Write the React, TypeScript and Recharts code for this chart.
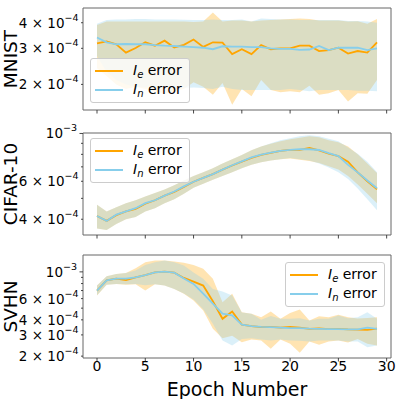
import { Area, ComposedChart, Legend, Line, ReferenceArea, XAxis, YAxis } from "recharts";

// epochs shared by all three panels
const epochs = [0, 1, 2, 3, 4, 5, 6, 7, 8, 9, 10, 11, 12, 13, 14, 15, 16, 17, 18, 19, 20, 21, 22, 23, 24, 25, 26, 27, 28, 29];
const xTicks = [0, 5, 10, 15, 20, 25, 30];

// all error values are in units of 1e-4
const mnistIe = [3.17, 3.24, 3.14, 2.86, 3.01, 3.21, 3.09, 3.27, 3.03, 3.12, 3.31, 3.05, 3.21, 3.2, 2.81, 2.97, 2.81, 3.11, 2.97, 3.0, 3.0, 3.09, 3.09, 2.91, 2.94, 3.02, 2.83, 2.91, 2.86, 3.21];
const mnistIeLo = [2.4, 2.2, 2.0, 1.9, 1.95, 1.9, 1.85, 1.8, 1.85, 1.9, 2.05, 1.95, 1.78, 2.03, 1.59, 1.9, 1.75, 2.1, 1.88, 1.83, 1.85, 1.83, 1.97, 1.78, 1.81, 1.88, 1.65, 1.81, 1.8, 2.1];
const mnistIeHi = [3.9, 4.05, 4.05, 4.05, 4.06, 4.06, 4.05, 4.05, 4.06, 4.05, 4.03, 4.05, 4.49, 4.05, 4.1, 4.1, 4.05, 4.1, 4.12, 4.15, 4.17, 4.2, 4.17, 4.1, 4.1, 4.1, 4.05, 4.07, 3.95, 4.17];
const mnistIn = [3.39, 3.21, 3.14, 3.15, 3.14, 3.14, 3.11, 3.09, 3.08, 3.06, 3.04, 3.02, 2.97, 3.07, 3.06, 3.06, 3.04, 3.04, 3.0, 2.98, 2.98, 2.95, 2.96, 3.08, 2.94, 3.02, 3.02, 3.02, 2.94, 3.0];
const mnistInLo = [2.75, 2.3, 2.1, 2.0, 1.95, 1.93, 1.92, 1.92, 1.92, 1.92, 1.93, 1.92, 1.9, 1.95, 1.9, 1.88, 1.88, 1.88, 1.88, 1.88, 1.9, 1.88, 1.85, 1.88, 1.88, 1.88, 1.88, 1.86, 1.86, 1.85];
const mnistInHi = [3.95, 4.12, 4.15, 4.15, 4.17, 4.17, 4.15, 4.15, 4.15, 4.14, 4.12, 4.12, 4.15, 4.12, 4.12, 4.15, 4.05, 4.2, 4.17, 4.15, 4.15, 4.12, 4.12, 4.12, 4.12, 4.12, 4.08, 4.08, 4.05, 4.0];

const cifarIe = [4.14, 3.93, 4.18, 4.35, 4.47, 4.72, 4.9, 5.15, 5.35, 5.65, 5.97, 6.22, 6.48, 6.8, 7.1, 7.4, 7.7, 7.95, 8.12, 8.3, 8.4, 8.4, 8.56, 8.35, 8.07, 7.85, 7.4, 6.6, 6.0, 5.5];
const cifarIeLo = [3.62, 3.57, 3.8, 4.0, 4.1, 4.35, 4.5, 4.75, 4.95, 5.25, 5.6, 5.85, 6.1, 6.35, 6.6, 6.9, 7.15, 7.35, 7.5, 7.6, 7.65, 7.55, 7.45, 7.3, 7.05, 6.8, 6.35, 5.8, 5.25, 4.75];
const cifarIeHi = [4.67, 4.34, 4.55, 4.75, 4.9, 5.1, 5.3, 5.5, 5.75, 6.05, 6.35, 6.6, 6.9, 7.25, 7.6, 7.95, 8.35, 8.7, 8.95, 9.2, 9.4, 9.55, 9.7, 9.6, 9.3, 9.1, 8.7, 8.0, 7.25, 6.55];
const cifarIn = [4.14, 3.93, 4.2, 4.35, 4.5, 4.75, 4.9, 5.15, 5.38, 5.68, 5.97, 6.22, 6.48, 6.8, 7.12, 7.42, 7.75, 7.98, 8.15, 8.3, 8.4, 8.45, 8.45, 8.38, 8.1, 7.85, 7.15, 6.6, 6.05, 5.57];
const cifarInLo = [3.62, 3.57, 3.8, 4.0, 4.1, 4.35, 4.5, 4.75, 4.95, 5.25, 5.6, 5.85, 6.1, 6.35, 6.6, 6.9, 7.15, 7.35, 7.5, 7.6, 7.7, 7.6, 7.5, 7.25, 6.95, 6.6, 6.15, 5.55, 4.95, 4.4];
const cifarInHi = [4.67, 4.34, 4.55, 4.75, 4.9, 5.1, 5.3, 5.5, 5.75, 6.05, 6.35, 6.6, 6.9, 7.25, 7.6, 7.95, 8.35, 8.7, 9.0, 9.3, 9.5, 9.7, 9.8, 9.7, 9.45, 9.2, 8.6, 8.05, 7.4, 6.6];

const svhnIe = [7.0, 8.5, 8.8, 8.55, 9.0, 9.4, 9.9, 10.05, 9.85, 8.9, 8.3, 7.7, 5.7, 4.08, 4.69, 3.65, 3.55, 3.48, 3.5, 3.45, 3.5, 3.45, 3.37, 3.4, 3.35, 3.37, 3.33, 3.32, 3.3, 3.38];
const svhnIeLo = [6.36, 7.8, 7.95, 7.8, 7.9, 7.0, 7.9, 7.7, 7.2, 6.57, 5.79, 4.78, 3.37, 2.82, 2.95, 2.61, 2.75, 2.7, 2.3, 2.75, 2.53, 2.13, 2.65, 2.48, 2.65, 2.7, 2.59, 2.78, 2.53, 2.45];
const svhnIeHi = [7.7, 9.2, 9.6, 9.8, 10.7, 12.0, 12.4, 12.4, 12.2, 11.9, 11.4, 10.6, 8.75, 5.6, 6.57, 4.63, 4.5, 4.21, 4.7, 4.08, 4.55, 4.87, 3.95, 4.29, 4.2, 4.4, 4.2, 4.1, 4.15, 4.2];
const svhnIn = [7.0, 8.5, 8.8, 8.8, 9.0, 9.4, 9.9, 10.05, 9.85, 8.8, 7.95, 6.6, 5.45, 4.5, 4.35, 3.65, 3.55, 3.5, 3.48, 3.45, 3.42, 3.42, 3.38, 3.37, 3.35, 3.35, 3.33, 3.33, 3.45, 3.37];
const svhnInLo = [6.4, 7.8, 7.95, 7.9, 7.95, 7.75, 7.9, 7.7, 7.2, 6.6, 5.9, 4.9, 3.71, 2.7, 2.45, 2.78, 2.82, 2.75, 2.7, 2.75, 2.7, 2.68, 2.65, 2.7, 2.7, 2.7, 2.65, 2.65, 2.37, 2.45];
const svhnInHi = [7.7, 9.2, 9.6, 9.8, 10.25, 11.4, 12.0, 12.4, 12.0, 11.3, 9.9, 8.75, 7.2, 6.87, 6.36, 4.6, 4.5, 4.0, 4.3, 4.08, 4.08, 4.13, 3.95, 4.08, 4.08, 4.35, 4.13, 4.21, 4.63, 4.08];

const legendSubs = ["e", "n"];

const FONT = "'DejaVu Sans', sans-serif";
const ORANGE = "#ffa500";
const SKY = "#87ceeb";
const AXIS = "#333";
const X_DOMAIN: [number, number] = [-1.45, 30.45];

function buildRows(ie: number[], ieLo: number[], ieHi: number[], inn: number[], inLo: number[], inHi: number[]) {
  return epochs.map((epoch, i) => ({
    epoch,
    ie: ie[i],
    ieBand: [ieLo[i], ieHi[i]],
    in: inn[i],
    inBand: [inLo[i], inHi[i]],
  }));
}

const panels = [
  {
    name: "MNIST",
    rows: buildRows(mnistIe, mnistIeLo, mnistIeHi, mnistIn, mnistInLo, mnistInHi),
    domain: [1.5, 4.72] as [number, number],
    ticks: [2, 3, 4],
    labeled: [2, 3, 4],
    top: 0,
    height: 125,
    marginTop: 8,
    xHeight: 15,
    legend: { left: 90, top: 58 },
    bottom: false,
  },
  {
    name: "CIFAR-10",
    rows: buildRows(cifarIe, cifarIeLo, cifarIeHi, cifarIn, cifarInLo, cifarInHi),
    domain: [3.38, 10.05] as [number, number],
    ticks: [4, 5, 6, 7, 8, 9, 10],
    labeled: [4, 6, 10],
    top: 113,
    height: 137,
    marginTop: 20,
    xHeight: 15,
    legend: { left: 90, top: 25 },
    bottom: false,
  },
  {
    name: "SVHN",
    rows: buildRows(svhnIe, svhnIeLo, svhnIeHi, svhnIn, svhnInLo, svhnInHi),
    domain: [1.93, 13.8] as [number, number],
    ticks: [2, 3, 4, 5, 6, 7, 8, 9, 10],
    labeled: [2, 3, 4, 6, 10],
    top: 250,
    height: 149,
    marginTop: 5,
    xHeight: 41,
    legend: { left: 285, top: 12 },
    bottom: true,
  },
];

function YTick(props: any) {
  const { x, y, payload, labeled } = props;
  const v = payload.value;
  const len = v === 10 ? 3.5 : 2;
  const show = labeled.includes(v);
  return (
    <g>
      <line x1={x - len} x2={x} y1={y} y2={y} stroke={AXIS} strokeWidth={0.9} />
      {show && (
        <text x={x - len - 2.5} y={y + 5} textAnchor="end" fontSize={13.5} fontFamily={FONT} fill="#000">
          {v === 10 ? "10" : `${v} × 10`}
          <tspan dy={-7} fontSize={9.5}>
            {v === 10 ? "−3" : "−4"}
          </tspan>
        </text>
      )}
    </g>
  );
}

function XTick(props: any) {
  const { x, y, payload, showLabel } = props;
  return (
    <g>
      <line x1={x} x2={x} y1={y} y2={y + 3.5} stroke={AXIS} strokeWidth={0.9} />
      {showLabel && (
        <text x={x} y={y + 13} textAnchor="middle" fontSize={14} fontFamily={FONT} fill="#000">
          {payload.value}
        </text>
      )}
    </g>
  );
}

function LegendBox() {
  return (
    <div
      style={{
        width: 100,
        height: 45,
        boxSizing: "border-box",
        border: "1px solid #cccccc",
        borderRadius: 3,
        background: "rgba(255,255,255,0.8)",
        paddingTop: 2,
        fontFamily: FONT,
        fontSize: 14,
        color: "#000",
      }}
    >
      {legendSubs.map((sub, i) => (
        <div key={sub} style={{ display: "flex", alignItems: "center", height: 19.5 }}>
          <span
            style={{
              display: "inline-block",
              width: 28,
              borderTop: `2px solid ${i === 0 ? ORANGE : SKY}`,
              marginLeft: 4,
              marginRight: 10,
            }}
          />
          <span style={{ whiteSpace: "nowrap" }}>
            <i>I</i>
            <sub style={{ fontStyle: "italic", fontSize: 10, verticalAlign: "-3px" }}>{sub}</sub> error
          </span>
        </div>
      ))}
    </div>
  );
}

export default function App() {
  return (
    <div style={{ position: "absolute", left: 0, top: 0, width: 399, height: 399, background: "#fff" }}>
      {panels.map((p) => {
        const plotH = p.height - p.marginTop - p.xHeight;
        const cy = p.marginTop + plotH / 2;
        return (
          <div key={p.name} style={{ position: "absolute", left: 0, top: p.top }}>
            <ComposedChart width={399} height={p.height} data={p.rows} margin={{ top: p.marginTop, right: 8, bottom: 0, left: 0 }}>
              <XAxis
                dataKey="epoch"
                type="number"
                domain={X_DOMAIN}
                allowDataOverflow
                ticks={xTicks}
                interval={0}
                height={p.xHeight}
                axisLine={false}
                tickLine={false}
                tickSize={0}
                tickMargin={0}
                tick={(props: any) => <XTick {...props} showLabel={p.bottom} />}
                label={
                  p.bottom
                    ? {
                        value: "Epoch Number",
                        content: () => (
                          <text x={237} y={146} textAnchor="middle" fontSize={19} fontFamily={FONT} fill="#000">
                            Epoch Number
                          </text>
                        ),
                      }
                    : undefined
                }
              />
              <YAxis
                type="number"
                scale="log"
                domain={p.domain}
                allowDataOverflow
                ticks={p.ticks}
                interval={0}
                width={83}
                axisLine={false}
                tickLine={false}
                tickSize={0}
                tickMargin={0}
                tick={(props: any) => <YTick {...props} labeled={p.labeled} />}
                label={{
                  value: p.name,
                  content: () => (
                    <text
                      x={17}
                      y={cy}
                      transform={`rotate(-90 17 ${cy})`}
                      textAnchor="middle"
                      fontSize={18.5}
                      fontFamily={FONT}
                      fill="#000"
                    >
                      {p.name}
                    </text>
                  ),
                }}
              />
              <Area dataKey="ieBand" type="linear" stroke="none" fill={ORANGE} fillOpacity={0.3} dot={false} activeDot={false} isAnimationActive={false} />
              <Area dataKey="inBand" type="linear" stroke="none" fill={SKY} fillOpacity={0.3} dot={false} activeDot={false} isAnimationActive={false} />
              <Line dataKey="ie" type="linear" stroke={ORANGE} strokeWidth={1.8} dot={false} activeDot={false} isAnimationActive={false} />
              <Line dataKey="in" type="linear" stroke={SKY} strokeWidth={1.8} dot={false} activeDot={false} isAnimationActive={false} />
              <ReferenceArea x1={X_DOMAIN[0]} x2={X_DOMAIN[1]} y1={p.domain[0]} y2={p.domain[1]} fill="none" stroke="#666" strokeWidth={1} />
              <Legend
                layout="horizontal"
                verticalAlign="middle"
                align="center"
                content={() => <LegendBox />}
                wrapperStyle={{ left: p.legend.left, top: p.legend.top, width: 100, height: 45 }}
              />
            </ComposedChart>
          </div>
        );
      })}
    </div>
  );
}
